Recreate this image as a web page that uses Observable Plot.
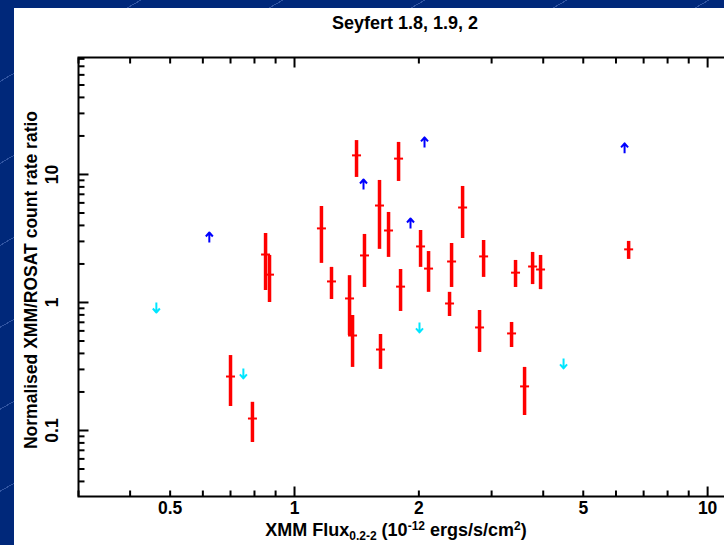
<!DOCTYPE html>
<html><head><meta charset="utf-8">
<script src="https://cdn.jsdelivr.net/npm/d3@7"></script>
<script src="https://cdn.jsdelivr.net/npm/@observablehq/plot@0.6"></script>
<style>
html,body{margin:0;padding:0;width:724px;height:545px;overflow:hidden;}
body{position:relative;background-color:#00287a;
 background-image:repeating-linear-gradient(150deg, rgba(0,0,0,0) 0px, rgba(0,0,0,0) 70px, rgba(110,140,210,0.45) 70px, rgba(110,140,210,0.45) 71px);}
#panel{position:absolute;left:14px;top:8px;width:710px;height:537px;background:#fff;}
#chart{position:absolute;left:0;top:0;width:724px;height:545px;overflow:hidden;}
#chart svg{display:block;max-width:none !important;width:760px !important;height:545px !important;}
</style></head><body>
<div id="panel"></div>
<div id="chart"></div>
<script>
// Detected sources: flux (1e-12 erg/s/cm2), ratio, and error range
const flux    = [0.700,0.791,0.851,0.870,1.162,1.229,1.359,1.382,1.413,1.477,1.606,1.615,1.689,1.786,1.806,2.019,2.111,2.373,2.400,2.552,2.805,2.869,3.353,3.428,3.605,3.770,3.941,6.439];
const ratio   = [0.264,0.124,2.37,1.65,3.79,1.46,1.075,0.552,14.1,2.33,5.72,0.429,3.65,13.3,1.33,2.74,1.84,0.982,2.09,5.52,0.638,2.29,0.573,1.71,0.221,1.91,1.81,2.60];
const ratioLo = [0.154,0.0806,1.24,1.00,2.02,1.055,0.552,0.311,9.48,1.31,2.60,0.300,2.25,8.82,0.851,1.88,1.20,0.777,1.31,3.16,0.407,1.57,0.445,1.31,0.131,1.38,1.26,2.17];
const ratioHi = [0.385,0.166,3.46,2.33,5.62,1.88,1.62,0.791,18.4,3.40,8.98,0.562,5.05,17.8,1.81,3.65,2.50,1.20,2.89,8.06,0.866,3.05,0.698,2.13,0.311,2.46,2.33,3.00];
// Lower limits (blue, up arrows)
const lowerFlux  = [0.622,1.469,1.909,2.064,6.295];
const lowerRatio = [3.22,8.35,4.14,17.8,16.0];
// Upper limits (cyan, down arrows)
const upperFlux  = [0.463,0.752,2.007,4.48];
const upperRatio = [0.914,0.279,0.638,0.334];
// Tick labels
const xTickLabels = [0.5,1,2,5,10];
const yTickLabels = [0.1,1,10];
const xMajor = [1,10];
const yMajor = [0.1,1,10];

const bars = flux.map((f,i)=>({flux:f, ratio:ratio[i], lo:ratioLo[i], hi:ratioHi[i]}));
const lower = lowerFlux.map((f,i)=>({flux:f, ratio:lowerRatio[i]}));
const upper = upperFlux.map((f,i)=>({flux:f, ratio:upperRatio[i]}));

const xMinor = [], yMinor = [];
for (const d of [0.1,1,10]) for (let k=2;k<=9;k++){ const v=k*d; if(v>0.3&&v<12.7) xMinor.push(v); }
for (const d of [0.01,0.1,1,10]) for (let k=2;k<=9;k++){ const v=k*d; if(v>0.0305&&v<82) yMinor.push(v); }

const hline = {draw(ctx,size){const w=Math.sqrt(size/Math.PI); ctx.moveTo(-w,0); ctx.lineTo(w,0);}};
const tickLine = {draw(ctx,l){ctx.moveTo(0,0); ctx.lineTo(0,-l);}};
const arrow = {draw(ctx,l){ctx.moveTo(0,0); ctx.lineTo(0,-l); ctx.moveTo(-3.5,-l+4); ctx.lineTo(0,-l); ctx.lineTo(3.5,-l+4);}};

const font = "'Liberation Sans', Arial, Helvetica, sans-serif";
const tickStyle = {stroke:"black", strokeWidth:2, shape:tickLine, anchor:"start", strokeLinecap:"butt"};

const plot = Plot.plot({
  width: 760, height: 545,
  marginLeft: 78, marginTop: 57, marginBottom: 49, marginRight: 10,
  style: {fontFamily: font, background: "transparent", overflow: "visible", maxWidth: "none"},
  x: {type:"log", domain:[0.3, 12.7], axis:null},
  y: {type:"log", domain:[0.0305, 82], axis:null},
  marks: [
    Plot.ruleX(bars, {x:"flux", y1:"lo", y2:"hi", stroke:"#ff0000", strokeWidth:3.5}),
    Plot.dot(bars, {x:"flux", y:"ratio", r:4.5, symbol:hline, stroke:"#ff0000", strokeWidth:2, fill:"none"}),
    Plot.vector(lower, {x:"flux", y:"ratio", length:10, rotate:0, anchor:"middle", shape:arrow, stroke:"#0000ff", strokeWidth:2, strokeLinecap:"butt"}),
    Plot.vector(upper, {x:"flux", y:"ratio", length:10, rotate:180, anchor:"middle", shape:arrow, stroke:"#00e6ff", strokeWidth:2, strokeLinecap:"butt"}),
    Plot.frame({stroke:"black", strokeWidth:2}),
    // bottom ticks
    Plot.vector(xMinor, {x:d=>d, frameAnchor:"bottom", length:6, rotate:0, ...tickStyle}),
    Plot.vector(xMajor, {x:d=>d, frameAnchor:"bottom", length:10, rotate:0, ...tickStyle}),
    // top ticks
    Plot.vector(xMinor, {x:d=>d, frameAnchor:"top", length:6, rotate:180, ...tickStyle}),
    Plot.vector(xMajor, {x:d=>d, frameAnchor:"top", length:10, rotate:180, ...tickStyle}),
    // left ticks
    Plot.vector(yMinor, {y:d=>d, frameAnchor:"left", length:6, rotate:90, ...tickStyle}),
    Plot.vector(yMajor, {y:d=>d, frameAnchor:"left", length:10, rotate:90, ...tickStyle}),
    // tick labels
    Plot.text(xTickLabels, {x:d=>d, frameAnchor:"bottom", dy:12, text:d=>String(d), fontSize:17.5, fontWeight:"bold", fill:"black", textAnchor:"middle", lineAnchor:"middle"}),
    Plot.text(yTickLabels, {y:d=>d, frameAnchor:"left", dx:-26, rotate:-90, text:d=>String(d), fontSize:17.5, fontWeight:"bold", fill:"black", textAnchor:"middle", lineAnchor:"middle"})
  ]
});
document.getElementById("chart").appendChild(plot);

const svg = d3.select(plot);
svg.append("text").attr("x",405).attr("y",29).attr("text-anchor","middle")
  .attr("font-family",font).attr("font-weight","bold").attr("font-size",18).attr("fill","black")
  .text("Seyfert 1.8, 1.9, 2");
svg.append("text").attr("transform","translate(37,280) rotate(-90)").attr("text-anchor","middle")
  .attr("font-family",font).attr("font-weight","bold").attr("font-size",17.5).attr("fill","black")
  .text("Normalised XMM/ROSAT count rate ratio");
const xl = svg.append("text").attr("x",396).attr("y",536).attr("text-anchor","middle")
  .attr("font-family",font).attr("font-weight","bold").attr("font-size",18).attr("fill","black");
xl.append("tspan").text("XMM Flux");
xl.append("tspan").attr("dy",4).attr("font-size",12).text("0.2-2");
xl.append("tspan").attr("dy",-4).text(" (10");
xl.append("tspan").attr("dy",-6).attr("font-size",12).text("-12");
xl.append("tspan").attr("dy",6).text(" ergs/s/cm");
xl.append("tspan").attr("dy",-6).attr("font-size",12).text("2");
xl.append("tspan").attr("dy",6).text(")");
</script>
</body></html>
